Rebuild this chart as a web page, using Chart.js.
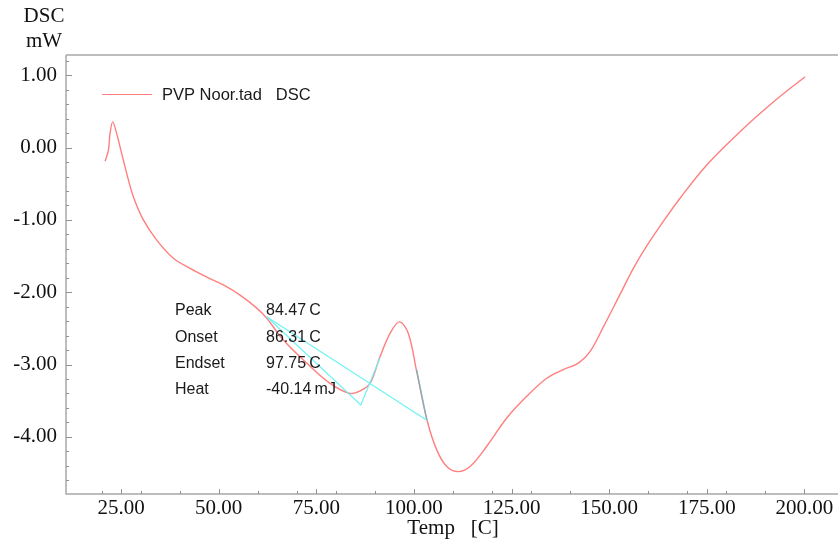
<!DOCTYPE html>
<html>
<head>
<meta charset="utf-8">
<script src="https://cdn.jsdelivr.net/npm/chart.js@4.4.1/dist/chart.umd.min.js"></script>
<style>
  html, body { margin: 0; padding: 0; background: #fff; }
  #wrap { width: 838px; height: 544px; }
</style>
</head>
<body>
<div id="wrap"><canvas id="dscChart" width="838" height="544"></canvas></div>
<script>
// DSC trace
const tempC = [20.9, 21.75, 22.18, 22.87, 23.9, 24.74, 26.46, 28.15, 30.71, 34.14, 38.39, 42.67, 46.95, 51.2,
    55.47, 59.75, 62.31, 66.56, 72.55, 78.52, 83.64, 86.2, 88.76, 91.33, 93.89, 96.27, 98.57, 100.72,
    103.36, 105.85, 108.41, 111.3, 114.37, 118.65, 123.77, 128.89, 134.01, 138.27, 142.11, 145.1, 148.51,
    152.78, 156.19, 159.62, 163.87, 168.15, 174.99, 183.51, 192.04, 200.16];
const dscMW = [-0.19, -0.04, 0.195, 0.355, 0.19, 0.01, -0.36, -0.68, -1.0, -1.28, -1.53, -1.67, -1.79, -1.9,
    -2.04, -2.22, -2.36, -2.66, -2.98, -3.26, -3.40, -3.365, -3.26, -2.89, -2.57, -2.41, -2.57, -3.10,
    -3.77, -4.18, -4.41, -4.48, -4.41, -4.13, -3.74, -3.44, -3.19, -3.07, -2.98, -2.82, -2.48,
    -2.03, -1.67, -1.36, -1.02, -0.70, -0.24, 0.22, 0.63, 0.98];

// analysis construction lines (cyan)
const baselineX = [62.3, 103.3];
const baselineY = [-2.34, -3.77];
const tangentX = [62.3, 86.4, 91.3];
const tangentY = [-2.34, -3.56, -2.91];
const flankX = [100.7, 103.3];
const flankY = [-3.07, -3.77];

const xMajor = [25, 50, 75, 100, 125, 150, 175, 200];
const xMinor = [20, 30, 40, 60, 70, 80, 90, 110, 120, 130, 140, 160, 170, 180, 190];
const yMajor = [1, 0, -1, -2, -3, -4];

const seriesLabel = 'PVP Noor.tad   DSC';
const resultNames = ['Peak', 'Onset', 'Endset', 'Heat'];
const resultValues = ['84.47\u2009C', '86.31\u2009C', '97.75\u2009C', '-40.14\u2009mJ'];

function pts(xs, ys) {
    return xs.map((x, i) => ({ x: x, y: ys[i] }));
}

const serif = '"Liberation Serif", "Times New Roman", serif';
const sans = '"Liberation Sans", Arial, sans-serif';
const red = '#ff7f7f';
const cyan = '#70f2f2';

const decor = {
    id: 'decor',
    beforeDatasetsDraw(chart) {
        const { ctx, chartArea: a, scales: { x, y } } = chart;
        ctx.save();
        ctx.strokeStyle = '#a8a8a8';
        ctx.lineWidth = 1.5;
        ctx.beginPath();
        ctx.moveTo(a.left, a.top);
        ctx.lineTo(a.left, a.bottom);
        ctx.lineTo(a.right, a.bottom);
        ctx.moveTo(a.left, a.top);
        ctx.lineTo(a.right, a.top);
        ctx.stroke();

        ctx.lineWidth = 1;
        ctx.strokeStyle = '#909090';
        ctx.beginPath();
        xMajor.forEach(v => {
            const px = Math.round(x.getPixelForValue(v)) + 0.5;
            ctx.moveTo(px, a.bottom); ctx.lineTo(px, a.bottom - 5);
        });
        xMinor.forEach(v => {
            const px = Math.round(x.getPixelForValue(v)) + 0.5;
            ctx.moveTo(px, a.bottom); ctx.lineTo(px, a.bottom - 3);
        });
        for (let k = -23; k <= 6; k++) {
            const v = k / 5;
            const py = Math.round(y.getPixelForValue(v)) + 0.5;
            const len = (k % 5 === 0) ? 6 : 3;
            ctx.moveTo(a.left, py); ctx.lineTo(a.left + len, py);
        }
        ctx.stroke();
        ctx.restore();
    },
    afterDraw(chart) {
        const { ctx } = chart;
        ctx.save();
        ctx.fillStyle = '#111';
        ctx.textAlign = 'center';
        ctx.textBaseline = 'middle';
        ctx.font = '21px ' + serif;
        ctx.fillText('DSC', 44, 16);
        ctx.fillText('mW', 44, 41);
        ctx.fillText('Temp   [C]', 453, 528);

        // legend
        ctx.strokeStyle = red;
        ctx.lineWidth = 1.2;
        ctx.beginPath();
        ctx.moveTo(102, 94.5); ctx.lineTo(152, 94.5);
        ctx.stroke();
        ctx.textAlign = 'left';
        ctx.font = '16.5px ' + sans;
        ctx.fillStyle = '#1a1a1a';
        ctx.fillText(seriesLabel, 162, 95);

        // analysis results
        ctx.font = '16px ' + sans;
        resultNames.forEach((n, i) => {
            const yy = 311 + i * 26.2;
            ctx.fillText(n, 175, yy);
            ctx.fillText(resultValues[i], 266, yy);
        });
        ctx.restore();
    }
};

new Chart(document.getElementById('dscChart'), {
    type: 'line',
    data: {
        datasets: [
            {
                label: seriesLabel,
                data: pts(tempC, dscMW),
                borderColor: red,
                borderWidth: 1.4,
                pointRadius: 0,
                tension: 0.35,
                order: 1
            },
            {
                label: 'baseline',
                data: pts(baselineX, baselineY),
                borderColor: cyan,
                borderWidth: 1.2,
                pointRadius: 0,
                tension: 0,
                order: 0
            },
            {
                label: 'tangent',
                data: pts(tangentX, tangentY),
                borderColor: cyan,
                borderWidth: 1.2,
                pointRadius: 0,
                tension: 0,
                order: 0
            },
            {
                label: 'flank',
                data: pts(flankX, flankY),
                borderColor: 'rgba(90, 190, 200, 0.8)',
                borderWidth: 1.3,
                pointRadius: 0,
                tension: 0,
                order: 0
            }
        ]
    },
    options: {
        responsive: false,
        animation: false,
        layout: { padding: { top: 55, right: 0, left: 0, bottom: 0 } },
        scales: {
            x: {
                type: 'linear',
                min: 10.9,
                max: 208.6,
                afterBuildTicks: s => { s.ticks = xMajor.map(v => ({ value: v })); },
                afterFit: s => { s.height = 50; },
                grid: { display: false, drawTicks: false },
                border: { display: false },
                ticks: {
                    padding: 2,
                    color: '#111',
                    font: { family: serif, size: 21 },
                    maxRotation: 0,
                    callback: v => Number(v).toFixed(2)
                }
            },
            y: {
                type: 'linear',
                min: -4.79,
                max: 1.28,
                afterBuildTicks: s => { s.ticks = yMajor.map(v => ({ value: v })); },
                afterFit: s => { s.width = 66; },
                grid: { display: false, drawTicks: false },
                border: { display: false },
                ticks: {
                    padding: 9,
                    color: '#111',
                    font: { family: serif, size: 21 },
                    callback: v => Number(v).toFixed(2)
                }
            }
        },
        plugins: {
            legend: { display: false },
            tooltip: { enabled: false }
        }
    },
    plugins: [decor]
});
</script>
</body>
</html>
